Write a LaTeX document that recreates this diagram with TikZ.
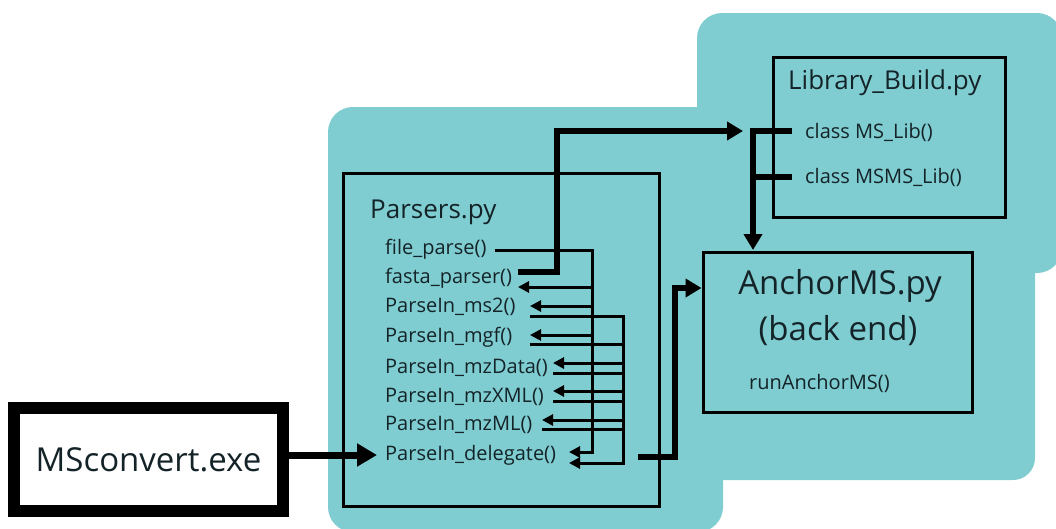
\documentclass[tikz,border=0pt]{standalone}
\usepackage{fontspec}
\setmainfont{Open Sans}
\usetikzlibrary{arrows.meta,calc}
\definecolor{panel}{RGB}{127,205,209}
\definecolor{ink}{RGB}{20,35,40}

\begin{document}
\begin{tikzpicture}[x=1pt,y=-1pt,
  wire/.style={line width=3pt},
  wirearrow/.style={wire,-{Triangle[length=11pt,width=11pt]}},
  bus/.style={line width=6pt},
  busarrow/.style={bus,-{Triangle[length=16pt,width=18pt]}},
  frame/.style={draw,line width=3pt,inner sep=0pt},
  itemtxt/.style={font=\fontsize{20}{20}\selectfont,text=ink,inner sep=0pt,anchor=west},
  titletxt/.style={font=\fontsize{26}{26}\selectfont,text=ink,inner sep=0pt,anchor=west},
  bigtxt/.style={font=\fontsize{33}{33}\selectfont,text=ink,inner sep=0pt},
]
\useasboundingbox (0,0) rectangle (1056,528);

% teal panels behind the modules
\fill[panel,rounded corners=25pt] (328,107) rectangle (723,532);
\fill[panel,rounded corners=25pt] (697,13) rectangle (1062,273);
\fill[panel,rounded corners=22pt] (697,240) rectangle (1035,480);

% module frames
\node[frame,minimum width=316pt,minimum height=333pt] (parsers) at (501,339.5) {};
\node[frame,minimum width=232pt,minimum height=160pt] (libbox) at (889,137) {};
\node[frame,minimum width=269pt,minimum height=160pt] (anchorbox) at (837.5,332) {};
\node[draw,line width=12pt,minimum width=269pt,minimum height=103pt,
      font=\fontsize{33}{33}\selectfont,text=ink] (msc) at (148.5,459.5) {MSconvert.exe};

% Parsers.py contents
\node[titletxt] (ptitle) at (370,212) {Parsers.py};
\node[itemtxt] (fp)  at (385,249) {file\_parse()};
\node[itemtxt] (fa)  at (385,278) {fasta\_parser()};
\node[itemtxt] (ms2) at (385,307) {ParseIn\_ms2()};
\node[itemtxt] (mgf) at (385,337) {ParseIn\_mgf()};
\node[itemtxt] (mzd) at (385,368) {ParseIn\_mzData()};
\node[itemtxt] (mzx) at (385,397) {ParseIn\_mzXML()};
\node[itemtxt] (mzm) at (385,425) {ParseIn\_mzML()};
\node[itemtxt] (dlg) at (385,455) {ParseIn\_delegate()};

% Library_Build.py contents
\node[titletxt] (ltitle) at (788,83) {Library\_Build.py};
\node[itemtxt] (mslib)   at (805,132) {class MS\_Lib()};
\node[itemtxt] (msmslib) at (805,177) {class MSMS\_Lib()};

% AnchorMS.py contents
\node[bigtxt] (atitle) at (840,286) {AnchorMS.py};
\node[bigtxt] (aback)  at (838,331) {(back end)};
\node[itemtxt] (run)   at (749,383) {runAnchorMS()};

% bus positions inside Parsers.py
\coordinate (lbus) at (592,0);
\coordinate (rbus) at (623,0);

% file_parse() fans out on the left bus and ends at ParseIn_delegate()
\draw[wirearrow] (495,250) -- (lbus |- 0,250) -- (lbus |- 0,452) -- (569,452);
\draw[wirearrow] (lbus |- 0,287) -- (518,287);
\draw[wirearrow] (lbus |- 0,306) -- (530,306);
\draw[wirearrow] (lbus |- 0,335) -- (530,335);

% format parsers feed the right bus, which ends at ParseIn_delegate()
\draw[wirearrow] (530,316) -- (rbus |- 0,316) -- (rbus |- 0,463) -- (569,463);
\draw[wire] (530,344) -- (rbus |- 0,344);
\draw[wirearrow] (rbus |- 0,363) -- (553,363);
\draw[wire] (553,373) -- (rbus |- 0,373);
\draw[wirearrow] (rbus |- 0,391) -- (553,391);
\draw[wire] (553,401) -- (rbus |- 0,401);
\draw[wirearrow] (rbus |- 0,420) -- (542,420);
\draw[wire] (542,429) -- (rbus |- 0,429);

% MSconvert.exe into ParseIn_delegate()
\draw[line width=7pt,-{Triangle[length=20pt,width=22pt]}]
  (msc.east |- dlg.west) -- ([xshift=-8pt]dlg.west);

% fasta_parser() to Library_Build.py
\draw[busarrow] (518,272) -- (557,272) -- (557,131) -- (743,131);

% Library_Build.py classes down to AnchorMS.py
\draw[bus] (792,131) -- (753,131);
\draw[bus] (792,177) -- (753,177);
\draw[busarrow] (753,128) -- (753,250);

% ParseIn_delegate() output to AnchorMS.py
\draw[busarrow] (638,457) -- (675,457) -- (675,288) -- (anchorbox.west |- 0,288);
\end{tikzpicture}
\end{document}
